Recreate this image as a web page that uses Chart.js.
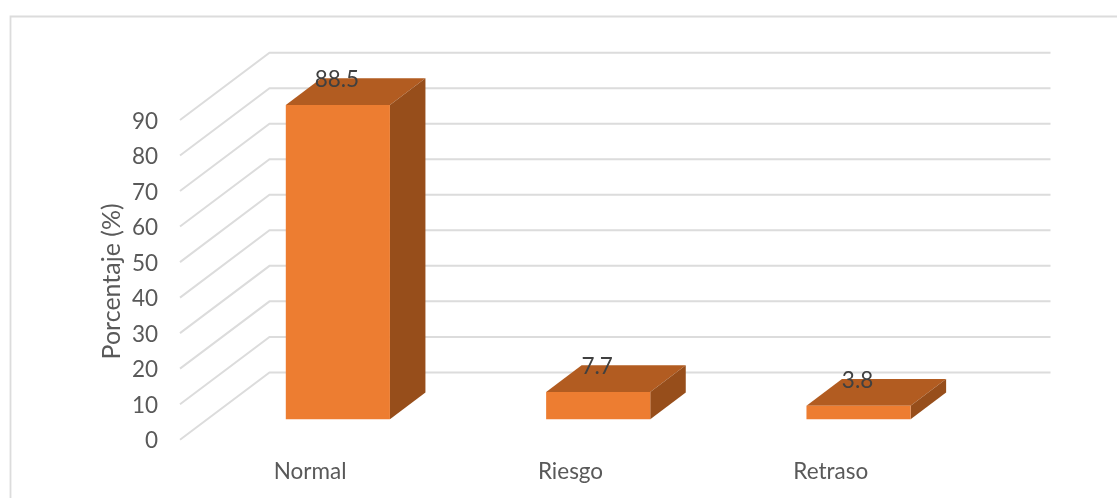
<!DOCTYPE html>
<html>
<head>
<meta charset="utf-8">
<style>html,body{margin:0;padding:0;background:#fff;overflow:hidden}canvas{display:block}</style>
<script src="https://cdn.jsdelivr.net/npm/chart.js@4"></script>
</head>
<body>
<canvas id="c" width="1117" height="498"></canvas>
<script>
const categories = ["Normal", "Riesgo", "Retraso"];
const porcentaje = [88.5, 7.7, 3.8];
const axisTitle = "Porcentaje (%)";

const FRONT = "#ED7D31", TOP = "#B25C21", SIDE = "#974E1B", GRID = "#DCDCDC";
const labelLift = 1.5;                 // axis text sits this far below its line end
const wallDX = 89.5, wallDY = -67.3;   // floor depth
const barDX = 27.7, barDY = -20.4 - labelLift; // bar plane relative to the axis plane
const depthDX = 35.5, depthDY = -26.8; // bar depth

const scene3d = {
  id: "scene3d",
  beforeDraw(chart) {
    const { ctx, chartArea: a } = chart;
    const y = chart.scales.y;
    ctx.save();
    // outer frame
    ctx.strokeStyle = GRID; ctx.lineWidth = 1.8;
    ctx.beginPath();
    ctx.moveTo(10.5, 498); ctx.lineTo(10.5, 16.5); ctx.lineTo(1117, 16.5);
    ctx.stroke();
    // side wall and back wall lines, one for each axis tick
    ctx.lineWidth = 2;
    y.ticks.forEach(t => {
      const py = y.getPixelForValue(t.value) - labelLift;
      ctx.beginPath();
      ctx.moveTo(a.left, py);
      ctx.lineTo(a.left + wallDX, py + wallDY);
      ctx.lineTo(a.right + wallDX, py + wallDY);
      ctx.stroke();
    });
    ctx.restore();
  },
  beforeDatasetsDraw(chart) {
    const ctx = chart.ctx;
    ctx.save();
    ctx.translate(barDX, barDY);
    chart.getDatasetMeta(0).data.forEach(b => {
      const l = b.x - b.width / 2, r = b.x + b.width / 2, t = b.y, bt = b.base;
      ctx.fillStyle = TOP;
      ctx.beginPath();
      ctx.moveTo(l, t); ctx.lineTo(l + depthDX, t + depthDY);
      ctx.lineTo(r + depthDX, t + depthDY); ctx.lineTo(r, t);
      ctx.closePath(); ctx.fill();
      ctx.fillStyle = SIDE;
      ctx.beginPath();
      ctx.moveTo(r, t); ctx.lineTo(r + depthDX, t + depthDY);
      ctx.lineTo(r + depthDX, bt + depthDY); ctx.lineTo(r, bt);
      ctx.closePath(); ctx.fill();
    });
  },
  afterDatasetsDraw(chart) {
    const ctx = chart.ctx;
    ctx.fillStyle = "#404040";
    ctx.font = "22.5px Lato";
    ctx.textAlign = "center";
    ctx.textBaseline = "middle";
    chart.getDatasetMeta(0).data.forEach((b, i) => {
      ctx.fillText(String(porcentaje[i]), b.x - 1, b.y - 25);
    });
    ctx.restore();
  }
};

new Chart(document.getElementById("c"), {
  type: "bar",
  data: {
    labels: categories,
    datasets: [{
      label: axisTitle,
      data: porcentaje,
      backgroundColor: FRONT,
      barPercentage: 0.4,
      categoryPercentage: 1,
      clip: false
    }]
  },
  plugins: [scene3d],
  options: {
    responsive: false,
    animation: false,
    devicePixelRatio: 1,
    layout: { padding: { top: 121.5, right: 156, left: 0, bottom: 0 } },
    plugins: { legend: { display: false }, tooltip: { enabled: false }, title: { display: false } },
    scales: {
      x: {
        offset: true,
        grid: { display: false, drawTicks: false },
        border: { display: false },
        ticks: { color: "#595959", font: { family: "Lato", size: 22.5 }, padding: 17, maxRotation: 0 },
        afterFit(s) { s.height = 56.8; }
      },
      y: {
        min: 0, max: 90,
        grid: { display: false, drawTicks: false },
        border: { display: false },
        ticks: { stepSize: 10, color: "#595959", font: { family: "Lato", size: 22.5 }, padding: 22 },
        title: { display: true, text: axisTitle, color: "#595959", font: { family: "Lato", size: 25 }, padding: { top: 96.5, bottom: 0 } },
        afterFit(s) { s.width = 180; }
      }
    }
  }
});
</script>
</body>
</html>
